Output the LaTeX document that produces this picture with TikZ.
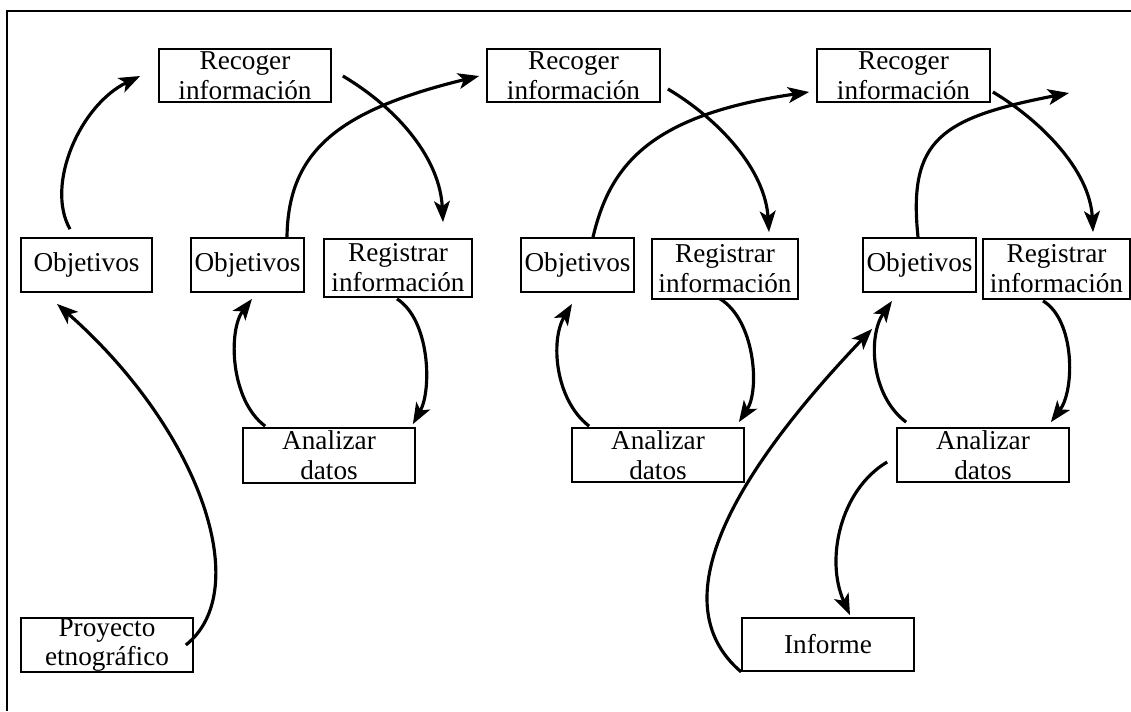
\documentclass[tikz,border=0pt]{standalone}
\usepackage{fontspec}
\setmainfont{Liberation Serif}
\usetikzlibrary{arrows.meta,calc}
\begin{document}
\begin{tikzpicture}[x=0.02cm,y=-0.02cm,
  box/.style={draw,line width=1pt,inner sep=0pt,align=center,
    font=\fontsize{15.5}{17}\selectfont,minimum height=#1},
  box/.default=1.08cm,
  flow/.style={line width=1.8pt,-{Stealth[length=12pt,width=9pt,inset=3pt]}},
  frameline/.style={line width=1.1pt}]
\useasboundingbox (0,0) rectangle (1131,711);
\draw[frameline] (7,711) -- (7,11) -- (1131,11);
% nodes
\node[box=1.06cm,minimum width=3.44cm] (r1) at (245,75.5) {Recoger\\información};
\node[box=1.06cm,minimum width=3.46cm] (r2) at (573.5,75.5) {Recoger\\información};
\node[box=1.06cm,minimum width=3.46cm] (r3) at (903.5,75.5) {Recoger\\información};
\node[box,minimum width=2.62cm] (o1) at (86.5,265) {Objetivos};
\node[box,minimum width=2.26cm] (o2) at (247.5,265) {Objetivos};
\node[box,minimum width=2.26cm] (o3) at (577.5,265) {Objetivos};
\node[box,minimum width=2.26cm] (o4) at (919.5,265) {Objetivos};
\node[box=1.16cm,minimum width=2.96cm] (g1) at (398,268) {Registrar\\información};
\node[box=1.2cm,minimum width=2.92cm] (g2) at (725,269) {Registrar\\información};
\node[box=1.2cm,minimum width=2.94cm] (g3) at (1056.5,269) {Registrar\\información};
\node[box=1.1cm,minimum width=3.44cm] (a1) at (329,455.5) {Analizar\\datos};
\node[box,minimum width=3.44cm] (a2) at (658,455) {Analizar\\datos};
\node[box,minimum width=3.44cm] (a3) at (983,455) {Analizar\\datos};
\node[box=1.06cm,minimum width=3.44cm] (inf) at (828,644.5) {Informe};
\node[box,minimum width=3.44cm] (p) at (107,645) {Proyecto\\etnográfico};
\coordinate (e4) at (1069,93);
% connectors
\draw[flow] ($(o1.north)+(-16.5,-8)$) .. controls (45,185) and (80,105) .. ($(r1.west)+(-18,0.5)$);
\draw[flow] ($(p.east)+(-8,0)$) .. controls (255,590) and (200,430) .. ($(o1.south)+(-29.5,11)$);
\draw[flow] ($(o2.north)+(39.5,0)$) .. controls (288,150) and (340,110) .. ($(r2.west)+(-7,0.5)$);
\draw[flow] ($(r1.east)+(11,0.5)$) .. controls (400,110) and (440,160) .. ($(g1.north)+(45,-16)$);
\draw[flow] ($(g1.south)+(-1,1)$) .. controls (430,320) and (432,390) .. ($(a1.north east)+(-3,-3)$);
\draw[flow] ($(a1.north west)+(23,-1)$) .. controls (230,400) and (228,330) .. ($(o2.south)+(4.5,6)$);
\draw[flow] ($(o3.north)+(15.5,0)$) .. controls (610,165) and (650,115) .. ($(r3.west)+(-7,16.5)$);
\draw[flow] ($(r2.east)+(7,13.5)$) .. controls (720,120) and (765,170) .. ($(g2.north)+(44,-6)$);
\draw[flow] ($(g2.south)+(-5,-1)$) .. controls (755,320) and (760,390) .. ($(a2.north east)+(-6,-5)$);
\draw[flow] ($(a2.north west)+(18,-1)$) .. controls (555,400) and (550,340) .. ($(o3.south)+(-5.5,11)$);
\draw[flow] ($(o4.north)+(-1.5,0)$) .. controls (908,140) and (940,118) .. (e4);
\draw[flow] ($(r3.east)+(2,16.5)$) .. controls (1040,120) and (1090,170) .. ($(g3.north)+(36.5,-6)$);
\draw[flow] ($(g3.south)+(-13.5,1)$) .. controls (1075,320) and (1075,390) .. ($(a3.north east)+(-19,-5)$);
\draw[flow] ($(a3.north west)+(10,-5)$) .. controls (870,395) and (868,335) .. ($(o4.south)+(-27.5,8)$);
\draw[flow] (inf.south west) .. controls (680,620) and (690,520) .. ($(o4.south west)+(10,36)$);
\draw[flow] ($(a3.west)+(-9,7)$) .. controls (840,490) and (825,560) .. ($(inf.north)+(22,-2)$);
\end{tikzpicture}
\end{document}
